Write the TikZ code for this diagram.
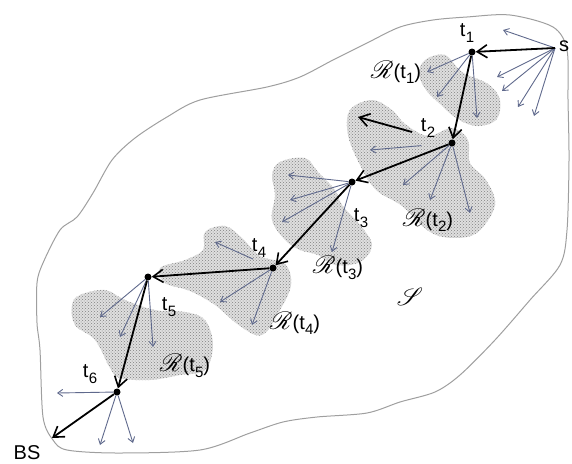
\documentclass[tikz,border=0pt]{standalone}
\usepackage{fontspec}
\setmainfont{Liberation Sans}
\usepackage{mathrsfs}
\usetikzlibrary{arrows.meta,patterns}
\definecolor{slate}{RGB}{95,105,140}
\newcommand\ts[1]{t\kern0.3pt\raisebox{-0.5ex}{\fontsize{15}{15}\selectfont #1}}
\newcommand\Rt[1]{{\fontsize{24}{24}\selectfont$\mathscr{R}$}(\ts{#1})}
\begin{document}
\begin{tikzpicture}[x=1pt,y=-1pt,
  thickarr/.style={line width=1.8pt, -{Straight Barb[length=10pt,width=13pt,line width=1.6pt]}},
  thinarr/.style={line width=0.9pt, draw=slate, -{Straight Barb[length=5pt,width=7pt]}},
  dotnode/.style={circle, fill=black, inner sep=0pt, minimum size=7pt},
  lbl/.style={font=\fontsize{20}{22}\selectfont, inner sep=1pt},
  blob/.style={fill=gray!25, postaction={pattern=crosshatch dots, pattern color=gray}}]
\useasboundingbox (0,0) rectangle (572,463);
% region boundary
\draw[gray!75, line width=1pt] plot[smooth cycle, tension=0.5] coordinates {
 (553,27) (567,50) (568,100) (569,160) (567,230) (560,265) (530,300) (495,340)
 (460,375) (435,392) (400,402) (367,413) (317,417) (283,422) (250,433) (200,450)
 (117,453) (67,450) (53,440) (43,417) (40,350) (37,323) (37,283) (43,263)
 (60,230) (77,217) (93,193) (112,160) (135,138) (167,117) (200,100) (267,87)
 (300,77) (333,60) (367,43) (400,27) (433,20) (467,17) (510,15)};
% stippled regions
\path[blob] plot[smooth cycle, tension=0.6] coordinates {
 (425,60) (445,55) (462,72) (488,84) (500,100) (496,120) (476,126) (456,118) (440,104) (426,90) (419,74)};
\path[blob] plot[smooth cycle, tension=0.6] coordinates {
 (350,110) (372,100) (392,110) (405,124) (428,136) (452,128) (468,140) (470,163)
 (486,180) (495,205) (478,232) (455,238) (430,232) (402,206) (376,190) (360,165) (348,135)};
\path[blob] plot[smooth cycle, tension=0.6] coordinates {
 (280,162) (305,158) (318,172) (335,190) (342,205) (360,225) (372,245) (360,262)
 (335,265) (318,255) (300,250) (285,240) (272,220) (275,195) (272,175)};
\path[blob] plot[smooth cycle, tension=0.6] coordinates {
 (205,232) (225,226) (242,238) (260,256) (285,264) (291,285) (280,310) (262,335)
 (240,326) (215,305) (190,291) (165,283) (160,268) (185,260) (203,250)};
\path[blob] plot[smooth cycle, tension=0.6] coordinates {
 (80,295) (105,290) (125,300) (155,310) (185,312) (205,320) (213,345) (205,370)
 (180,375) (150,380) (120,378) (110,368) (95,340) (75,325) (72,305)};
% nodes
\node[dotnode] (t1) at (472,52) {};
\node[dotnode] (t2) at (452,143) {};
\node[dotnode] (t3) at (352,182) {};
\node[dotnode] (t4) at (273,268) {};
\node[dotnode] (t5) at (148,277) {};
\node[dotnode] (t6) at (117,392) {};
\node[lbl] (s) at (564,46) {s};
\coordinate (s0) at (555,48);
\node[lbl] (BS) at (27,453) {BS};
\coordinate (bs0) at (52,438);
% labels
\node[lbl] (l1) at (467,33) {\ts{1}};
\node[lbl] (l2) at (428,128) {\ts{2}};
\node[lbl] (l3) at (361,218) {\ts{3}};
\node[lbl] (l4) at (259,248) {\ts{4}};
\node[lbl] (l5) at (169,307) {\ts{5}};
\node[lbl] (l6) at (90,374) {\ts{6}};
\node[lbl] (r1) at (396,72) {\Rt{1}};
\node[lbl] (r2) at (428,220) {\Rt{2}};
\node[lbl] (r3) at (338,268) {\Rt{3}};
\node[lbl] (r4) at (295,323) {\Rt{4}};
\node[lbl] (r5) at (185,366) {\Rt{5}};
\node[font=\fontsize{24}{26}\selectfont] (S) at (410,297) {$\mathscr{S}$};
% thin arrows
\foreach \p in {(503,30),(497,77),(502,91),(518,107),(534,116)}
  \draw[thinarr] (s0) -- \p;
\foreach \p in {(427,72),(437,97),(477,118)}
  \draw[thinarr] (t1) -- \p;
\draw[thinarr, shorten <=27pt] (t2) -- (370,150);
\foreach \p in {(403,185),(430,200),(470,213)}
  \draw[thinarr] (t2) -- \p;
\foreach \p in {(288,175),(290,200),(282,222),(332,252)}
  \draw[thinarr] (t3) -- \p;
\draw[thinarr, shorten <=18pt] (t4) -- (215,242);
\foreach \p in {(220,302),(252,325)}
  \draw[thinarr] (t4) -- \p;
\foreach \p in {(100,317),(120,337),(153,347)}
  \draw[thinarr] (t5) -- \p;
\foreach \p in {(57,393),(100,445),(133,443)}
  \draw[thinarr] (t6) -- \p;
% thick arrows
\coordinate (a2s) at (412,132);
\coordinate (a2e) at (358,117);
\draw[thickarr] (s0) -- (t1);
\draw[thickarr] (t1) -- (t2);
\draw[thickarr] (t2) -- (t3);
\draw[thickarr] (t3) -- (t4);
\draw[thickarr] (t4) -- (t5);
\draw[thickarr] (t5) -- (t6);
\draw[thickarr] (t6) -- (bs0);
\draw[thickarr] (a2s) -- (a2e);
\end{tikzpicture}
\end{document}
